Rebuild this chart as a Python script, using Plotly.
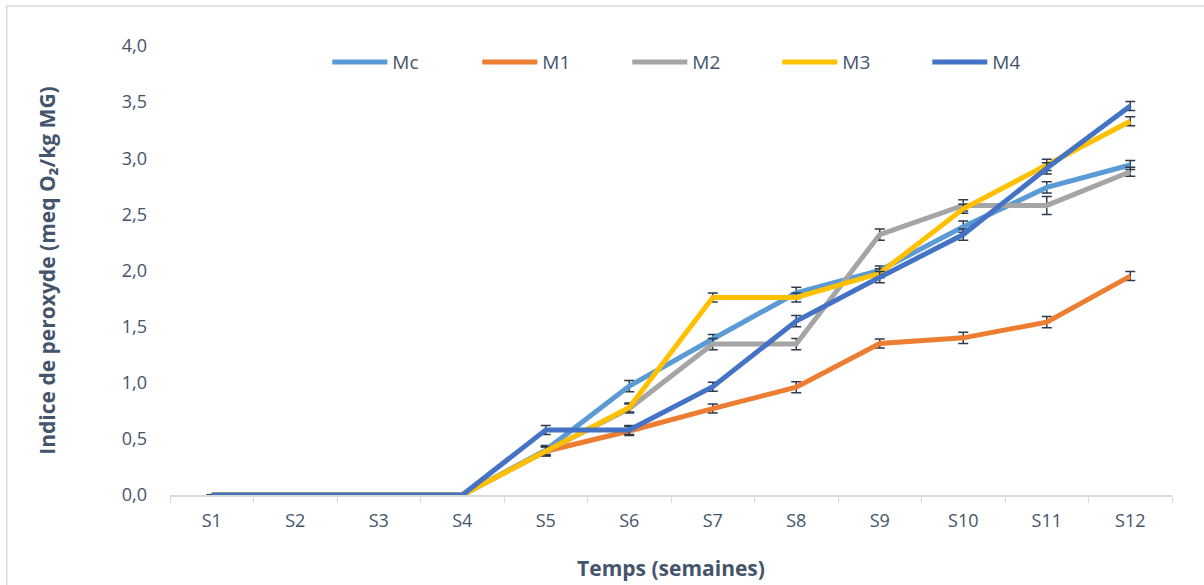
import plotly.graph_objects as go

weeks = ["S1", "S2", "S3", "S4", "S5", "S6", "S7", "S8", "S9", "S10", "S11", "S12"]

mc = [0, 0, 0, 0, 0.40, 0.97, 1.39, 1.80, 2.00, 2.39, 2.74, 2.94]
m1 = [0, 0, 0, 0, 0.39, 0.57, 0.77, 0.96, 1.35, 1.40, 1.54, 1.95]
m2 = [0, 0, 0, 0, 0.39, 0.77, 1.345, 1.345, 2.32, 2.58, 2.58, 2.88]
m3 = [0, 0, 0, 0, 0.39, 0.78, 1.76, 1.76, 1.975, 2.55, 2.94, 3.33]
m4 = [0, 0, 0, 0, 0.58, 0.58, 0.965, 1.55, 1.94, 2.32, 2.91, 3.465]

mc_err = [0, 0, 0, 0, 0.04, 0.05, 0.04, 0.05, 0.04, 0.05, 0.05, 0.04]
m1_err = [0, 0, 0, 0, 0.04, 0.04, 0.04, 0.05, 0.04, 0.05, 0.05, 0.04]
m2_err = [0, 0, 0, 0, 0.04, 0.04, 0.05, 0.05, 0.05, 0.05, 0.08, 0.04]
m3_err = [0, 0, 0, 0, 0.04, 0.04, 0.04, 0.04, 0.04, 0.04, 0.05, 0.04]
m4_err = [0, 0, 0, 0, 0.04, 0.04, 0.04, 0.05, 0.05, 0.05, 0.05, 0.04]

names = ["Mc", "M1", "M2", "M3", "M4"]
series = [mc, m1, m2, m3, m4]
errors = [mc_err, m1_err, m2_err, m3_err, m4_err]
colors = ["#5B9BD5", "#ED7D31", "#A5A5A5", "#FFC000", "#4472C4"]

text_color = "#44546A"
font_family = "Open Sans, Noto Sans, sans-serif"

fig = go.Figure()
for name, ys, err, col in zip(names, series, errors, colors):
    fig.add_trace(go.Scatter(
        x=weeks, y=ys, name=name, mode="lines",
        line=dict(color=col, width=5),
        error_y=dict(type="data", array=err, visible=True,
                     color="#2E3A4E", thickness=1.5, width=5),
    ))

fig.update_layout(
    width=1204, height=585,
    margin=dict(l=170, r=32, t=46, b=90, autoexpand=False),
    paper_bgcolor="white", plot_bgcolor="white",
    separators=", ",
    font=dict(family=font_family, color=text_color, size=18),
    showlegend=True,
    legend=dict(
        orientation="h", x=0.157, y=0.964, xanchor="left", yanchor="middle",
        entrywidth=80, entrywidthmode="pixels",
        font=dict(size=19, color=text_color),
        bgcolor="rgba(0,0,0,0)", itemwidth=55,
    ),
    xaxis=dict(
        type="category", range=[-0.5, 11.5],
        showline=True, linecolor="#D9D9D9", linewidth=1.5,
        ticks="outside", tickson="boundaries", ticklen=6, tickcolor="#D9D9D9",
        showgrid=False, zeroline=False,
        tickfont=dict(size=18, color=text_color),
        ticklabelstandoff=9,
        title=dict(text="<b>Temps (semaines)</b>", font=dict(size=21, color=text_color), standoff=30),
    ),
    yaxis=dict(
        range=[0, 4], dtick=0.5, tickformat=".1f",
        showline=False, showgrid=False, zeroline=False,
        ticks="", tickfont=dict(size=18, color=text_color),
        ticklabelstandoff=22,
        title=dict(text="<b>Indice de peroxyde (meq O₂/kg MG)</b>", font=dict(size=21, color=text_color), standoff=60),
    ),
    shapes=[dict(type="rect", xref="paper", yref="paper",
                 x0=-0.163, x1=1.1, y0=-0.3, y1=1.089,
                 line=dict(color="#D9D9D9", width=1.5), fillcolor="rgba(0,0,0,0)", layer="below")],
)

fig.write_html("out.html")
